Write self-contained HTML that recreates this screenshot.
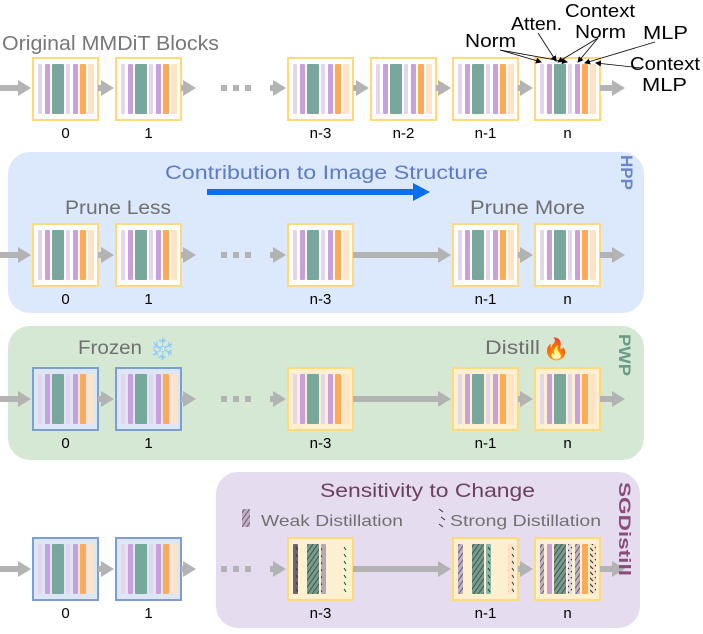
<!DOCTYPE html>
<html><head><meta charset="utf-8"><style>
html,body{margin:0;padding:0;background:#fff;width:703px;height:634px;overflow:hidden}
svg text{font-family:"Liberation Sans",sans-serif}
</style></head><body>
<svg id="s" width="703" height="634" viewBox="0 0 703 634" xmlns="http://www.w3.org/2000/svg">
<defs>
<pattern id="h1" width="4" height="4" patternUnits="userSpaceOnUse" patternTransform="rotate(35)"><rect width="4" height="4" fill="#7a9a90"/><line x1="0" y1="0" x2="0" y2="4" stroke="#2e4a40" stroke-width="1.6"/></pattern>
<pattern id="h2" width="4" height="4" patternUnits="userSpaceOnUse" patternTransform="rotate(35)"><rect width="4" height="4" fill="#c0b0c4"/><line x1="0" y1="0" x2="0" y2="4" stroke="#4a4050" stroke-width="1.4"/></pattern>
<pattern id="h3" width="6" height="7" patternUnits="userSpaceOnUse"><line x1="2" y1="1" x2="4" y2="4" stroke="#333" stroke-width="1"/></pattern>
<pattern id="h4" width="6" height="6" patternUnits="userSpaceOnUse"><line x1="1" y1="1" x2="5" y2="5" stroke="#333" stroke-width="1.2"/></pattern>
<marker id="ka" markerWidth="6" markerHeight="6" refX="5" refY="3" orient="auto" markerUnits="userSpaceOnUse"><path d="M0,0 L6,3 L0,6z" fill="#000"/></marker>
</defs>
<rect x="8" y="152" width="636" height="161" rx="22" fill="#dce8fb"/>
<rect x="8" y="326" width="636" height="134" rx="22" fill="#d5e8d4"/>
<rect x="216" y="472" width="424" height="156" rx="22" fill="#e6dcef"/>
<g id="g"></g>
<text x="2" y="50" font-size="20" fill="#777" textLength="217" lengthAdjust="spacingAndGlyphs">Original MMDiT Blocks</text>
<text x="165" y="179" font-size="19" fill="#5b7bc8" textLength="323" lengthAdjust="spacingAndGlyphs">Contribution to Image Structure</text>
<rect x="207" y="189" width="208" height="6" fill="#0a6fe8"/>
<path d="M413,183 L430,192 L413,201z" fill="#0a6fe8"/>
<text x="65" y="214" font-size="19" fill="#707070" textLength="106" lengthAdjust="spacingAndGlyphs">Prune Less</text>
<text x="470" y="214" font-size="19" fill="#707070" textLength="115" lengthAdjust="spacingAndGlyphs">Prune More</text>
<text transform="translate(621,155) rotate(90)" font-size="17" font-weight="bold" fill="#6b87c8" textLength="35" lengthAdjust="spacingAndGlyphs">HPP</text>
<text x="78" y="354" font-size="19" fill="#707070" textLength="64" lengthAdjust="spacingAndGlyphs">Frozen</text>
<text x="149" y="356" font-size="21">❄️</text>
<text x="485" y="354" font-size="19" fill="#707070" textLength="55" lengthAdjust="spacingAndGlyphs">Distill</text>
<text x="543" y="356" font-size="21">🔥</text>
<text transform="translate(619,334) rotate(90)" font-size="17" font-weight="bold" fill="#6a9a88" textLength="42" lengthAdjust="spacingAndGlyphs">PWP</text>
<text x="320" y="497" font-size="19" fill="#6b4060" textLength="215" lengthAdjust="spacingAndGlyphs">Sensitivity to Change</text>
<rect x="242" y="509" width="8" height="18" fill="url(#h2)"/>
<text x="261" y="526" font-size="16" fill="#707070" textLength="142" lengthAdjust="spacingAndGlyphs">Weak Distillation</text>
<line x1="439" y1="509" x2="443" y2="512" stroke="#333"/><line x1="441" y1="517" x2="445" y2="520" stroke="#333"/><line x1="439" y1="524" x2="443" y2="527" stroke="#333"/>
<text x="450" y="526" font-size="16" fill="#707070" textLength="151" lengthAdjust="spacingAndGlyphs">Strong Distillation</text>
<text transform="translate(619,482) rotate(90)" font-size="17" font-weight="bold" fill="#8a4c7c" textLength="94" lengthAdjust="spacingAndGlyphs">SGDistill</text>
<g font-size="18" fill="#000">
<text x="465" y="47" textLength="51" lengthAdjust="spacingAndGlyphs">Norm</text>
<text x="511" y="30" textLength="51" lengthAdjust="spacingAndGlyphs">Atten.</text>
<text x="565" y="17" textLength="70" lengthAdjust="spacingAndGlyphs">Context</text>
<text x="575" y="38" textLength="51" lengthAdjust="spacingAndGlyphs">Norm</text>
<text x="643" y="39" textLength="45" lengthAdjust="spacingAndGlyphs">MLP</text>
<text x="630" y="70" textLength="70" lengthAdjust="spacingAndGlyphs">Context</text>
<text x="642" y="91" textLength="45" lengthAdjust="spacingAndGlyphs">MLP</text>
</g>
<g stroke="#000" stroke-width="0.8" fill="none">
<line x1="500" y1="50" x2="541" y2="62" marker-end="url(#ka)"/>
<line x1="500" y1="50" x2="567" y2="62" marker-end="url(#ka)"/>
<line x1="538" y1="33" x2="556" y2="61" marker-end="url(#ka)"/>
<line x1="598" y1="38" x2="558" y2="62" marker-end="url(#ka)"/>
<line x1="598" y1="38" x2="578" y2="62" marker-end="url(#ka)"/>
<line x1="655" y1="42" x2="585" y2="63" marker-end="url(#ka)"/>
<line x1="642" y1="68" x2="596" y2="63" marker-end="url(#ka)"/>
</g>
</svg>
<script>
var g=document.getElementById('g'),h='';
var B=[[5,4,'#e3d5ea'],[12,5,'#c9a0dc'],[19,12,'#78a89c'],[33,4,'#e3d5ea'],[40,5,'#c9a0dc'],[47,6,'#ffaa55'],[55,6,'#ffe3c6']];
function blk(x,y,type,lab){
 var bg='#fff',bd='#ffd97a';
 if(type=='f'){bg='#dde6f5';bd='#7a9fd0';}
 if(type=='y'){bg='#fdf0d0';}
 h+='<rect x="'+x+'" y="'+y+'" width="65" height="62" fill="'+bg+'" stroke="'+bd+'" stroke-width="2"/>';
 B.forEach(function(b){h+='<rect x="'+(x+b[0])+'" y="'+(y+6)+'" width="'+b[1]+'" height="50" rx="1" fill="'+b[2]+'"/>';});
 h+='<text x="'+(x+32.5)+'" y="'+(y+80)+'" font-size="15" text-anchor="middle">'+lab+'</text>';
}
function sblk(x,y,lab,bars){
 h+='<rect x="'+x+'" y="'+y+'" width="65" height="62" fill="#fdf0d0" stroke="#ffd97a" stroke-width="2"/>';
 bars.forEach(function(b){h+='<rect x="'+(x+b[0])+'" y="'+(y+6)+'" width="'+b[1]+'" height="50" rx="1" fill="'+b[2]+'"/>';});
 h+='<text x="'+(x+32.5)+'" y="'+(y+80)+'" font-size="15" text-anchor="middle">'+lab+'</text>';
}
function ar(x1,x2,y){
 x2=x2-2;
 h+='<rect x="'+x1+'" y="'+(y-3)+'" width="'+(x2-11-x1)+'" height="6" fill="#b3b3b3"/>';
 h+='<path d="M'+(x2-13)+','+(y-8)+' L'+x2+','+y+' L'+(x2-13)+','+(y+8)+'z" fill="#b3b3b3"/>';
}
function dots(y){for(var i=0;i<3;i++)h+='<rect x="'+(221+i*12)+'" y="'+(y-3)+'" width="6" height="6" fill="#b3b3b3"/>';}
var y=58,c=y+30;
ar(0,33,c);blk(33,y,'w','0');ar(98,116,c);blk(116,y,'w','1');ar(181,198,c);dots(c);ar(270,288,c);
blk(288,y,'w','n-3');ar(353,371,c);blk(371,y,'w','n-2');ar(436,453,c);blk(453,y,'w','n-1');ar(518,535,c);blk(535,y,'w','n');ar(600,627,c);
y=224;c=y+31;
ar(0,33,c);blk(33,y,'w','0');ar(98,116,c);blk(116,y,'w','1');ar(181,198,c);dots(c);ar(270,288,c);
blk(288,y,'w','n-3');ar(353,453,c);blk(453,y,'w','n-1');ar(518,535,c);blk(535,y,'w','n');ar(600,627,c);
y=368;c=y+31;
ar(0,33,c);blk(33,y,'f','0');ar(98,116,c);blk(116,y,'f','1');ar(181,198,c);dots(c);ar(270,288,c);
blk(288,y,'y','n-3');ar(353,453,c);blk(453,y,'y','n-1');ar(518,535,c);blk(535,y,'y','n');ar(600,627,c);
y=538;c=y+31;
ar(0,33,c);blk(33,y,'f','0');ar(98,116,c);blk(116,y,'f','1');ar(181,198,c);dots(c);ar(270,288,c);
sblk(288,y,'n-3',[[5,5,'#6d6470'],[5,5,'url(#h3)'],[19,12,'url(#h1)'],[33,5,'#b5a8b5'],[33,5,'url(#h3)'],[55,6,'#f0f8d0'],[55,6,'url(#h3)']]);
ar(353,453,c);
sblk(453,y,'n-1',[[5,5,'url(#h2)'],[19,12,'#8fd0c0'],[19,12,'url(#h1)'],[33,5,'#8ab8a8'],[33,5,'url(#h3)'],[55,6,'#ffe3c6'],[55,6,'url(#h3)']]);
ar(518,535,c);
sblk(535,y,'n',[[5,4,'url(#h2)'],[12,5,'#c9a0dc'],[19,12,'url(#h1)'],[33,4,'#e3d5ea'],[33,4,'url(#h4)'],[40,5,'url(#h2)'],[47,6,'#ffaa55'],[55,6,'#ffe3c6'],[55,6,'url(#h4)']]);
ar(600,627,c);
g.innerHTML=h;
</script>
</body></html>
